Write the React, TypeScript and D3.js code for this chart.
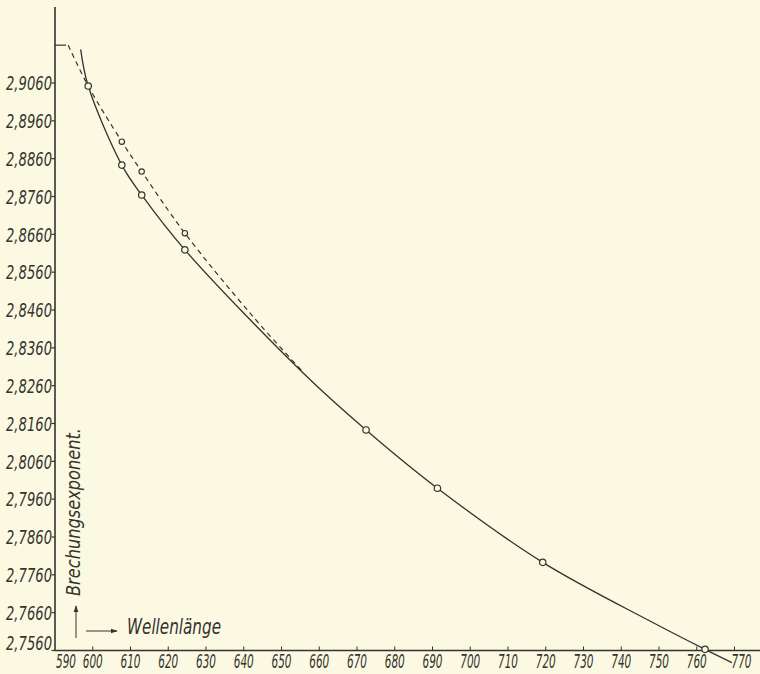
import React from "react";
import * as d3 from "d3";

// Wavelength axis ticks
const xTicks = [590, 600, 610, 620, 630, 640, 650, 660, 670, 680, 690, 700, 710, 720, 730, 740, 750, 760, 770];
// Refractive index axis ticks
const yTicks = [2.756, 2.766, 2.776, 2.786, 2.796, 2.806, 2.816, 2.826, 2.836, 2.846, 2.856, 2.866, 2.876, 2.886, 2.896, 2.906];
const yTickLabels = ["2,7560", "2,7660", "2,7760", "2,7860", "2,7960", "2,8060", "2,8160", "2,8260", "2,8360", "2,8460", "2,8560", "2,8660", "2,8760", "2,8860", "2,8960", "2,9060"];
const yTopTick = 2.916;

// Solid curve: measured points (markers)
const solidMarkX = [598.8, 607.7, 612.96, 624.4, 672.4, 691.3, 719.2, 762.2];
const solidMarkY = [2.9052, 2.8843, 2.8764, 2.8619, 2.8143, 2.7989, 2.7793, 2.7563];
// Solid curve trace
const solidCurveX = [596.8, 598.8, 607.7, 612.96, 624.4, 655.8, 672.4, 691.3, 719.2, 747.6, 762.2, 769.3];
const solidCurveY = [2.9149, 2.9052, 2.8843, 2.8764, 2.8619, 2.8293, 2.8143, 2.7989, 2.7793, 2.7638, 2.7563, 2.7528];

// Dashed curve: measured points (markers)
const dashMarkX = [607.7, 612.96, 624.4];
const dashMarkY = [2.8905, 2.8826, 2.8663];
const dashCurveX = [593.5, 598.8, 607.7, 612.96, 624.4, 642.5, 655.7];
const dashCurveY = [2.916, 2.9052, 2.8905, 2.8826, 2.8663, 2.8442, 2.8296];

const W = 760;
const H = 674;
const BG = "#fbf9e1";
const INK = "#33332f";
const FONT = "'Liberation Sans Narrow', 'DejaVu Sans Condensed', 'Arial Narrow', sans-serif";

export default function App() {
  const x = d3.scaleLinear().domain([590, 770]).range([55, 734.5]);
  const y = d3.scaleLinear().domain([2.756, 2.906]).range([650.5, 83]);

  const line = d3
    .line<[number, number]>()
    .x((d) => x(d[0]))
    .y((d) => y(d[1]))
    .curve(d3.curveCatmullRom.alpha(0.5));

  const solidPts = solidCurveX.map((v, i) => [v, solidCurveY[i]] as [number, number]);
  const dashPts = dashCurveX.map((v, i) => [v, dashCurveY[i]] as [number, number]);

  const x0 = x(590);
  const yBase = y(2.756);

  return (
    <svg
      width={W}
      height={H}
      viewBox={`0 0 ${W} ${H}`}
      style={{ position: "absolute", left: 0, top: 0, background: BG }}
    >
      <rect x={0} y={0} width={W} height={H} fill={BG} />
      <defs>
        <marker id="arr" viewBox="0 0 10 10" refX="9" refY="5" markerWidth="7" markerHeight="7" orient="auto">
          <path d="M0,1.5 L10,5 L0,8.5 Z" fill={INK} />
        </marker>
      </defs>

      {/* axes */}
      <line x1={x0} y1={7} x2={x0} y2={yBase} stroke={INK} strokeWidth={1.6} />
      <line x1={x0} y1={yBase} x2={W} y2={yBase} stroke={INK} strokeWidth={1.6} />

      {/* y ticks */}
      {yTicks.map((t, i) => (
        <g key={"yt" + i}>
          <line x1={x0 - 3.5} x2={x0} y1={y(t)} y2={y(t)} stroke={INK} strokeWidth={1.2} />
          <text
            x={52}
            y={i === 0 ? yBase - 1 : y(t)}
            dy={i === 0 ? 0 : "0.36em"}
            textAnchor="end"
            fontFamily={FONT}
            fontStyle="italic"
            fontSize={20}
            fill={INK}
            textLength={46}
            lengthAdjust="spacingAndGlyphs"
          >
            {yTickLabels[i]}
          </text>
        </g>
      ))}
      <line x1={x0} x2={x0 + 11} y1={y(yTopTick)} y2={y(yTopTick)} stroke={INK} strokeWidth={1.2} />

      {/* x ticks */}
      {xTicks.map((t, i) => {
        const nudge = t === 590 ? 11 : t === 770 ? 7 : 0;
        return (
          <g key={"xt" + i}>
            {t !== 590 && (
              <line x1={x(t)} x2={x(t)} y1={yBase - 4} y2={yBase} stroke={INK} strokeWidth={1} />
            )}
            <text
              x={x(t) + nudge}
              y={668}
              textAnchor="middle"
              fontFamily={FONT}
              fontStyle="italic"
              fontSize={20}
              fill={INK}
              textLength={20}
              lengthAdjust="spacingAndGlyphs"
            >
              {t}
            </text>
          </g>
        );
      })}

      {/* curves */}
      <path d={line(dashPts) || ""} fill="none" stroke={INK} strokeWidth={1.2} strokeDasharray="5,4" />
      <path d={line(solidPts) || ""} fill="none" stroke={INK} strokeWidth={1.3} />

      {/* markers */}
      {dashMarkX.map((v, i) => (
        <circle key={"dm" + i} cx={x(v)} cy={y(dashMarkY[i])} r={2.7} fill={BG} stroke={INK} strokeWidth={1.1} />
      ))}
      {solidMarkX.map((v, i) => (
        <circle key={"sm" + i} cx={x(v)} cy={y(solidMarkY[i])} r={3.2} fill={BG} stroke={INK} strokeWidth={1.2} />
      ))}

      {/* axis captions */}
      <line x1={76} y1={638} x2={76} y2={606} stroke={INK} strokeWidth={1} markerEnd="url(#arr)" />
      <line x1={86} y1={631} x2={117} y2={631} stroke={INK} strokeWidth={1} markerEnd="url(#arr)" />
      <text
        x={127}
        y={634}
        fontFamily={FONT}
        fontStyle="italic"
        fontSize={22}
        fill={INK}
        textLength={94}
        lengthAdjust="spacingAndGlyphs"
      >
        Wellenlänge
      </text>
      <text
        transform="translate(80,596) rotate(-90)"
        fontFamily={FONT}
        fontStyle="italic"
        fontSize={19}
        fill={INK}
        textLength={168}
        lengthAdjust="spacingAndGlyphs"
      >
        Brechungsexponent.
      </text>
    </svg>
  );
}
